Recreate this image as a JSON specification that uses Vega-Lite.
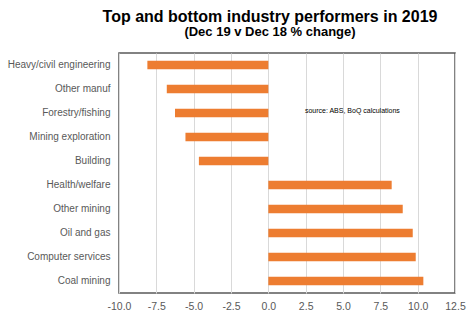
{
  "$schema": "https://vega.github.io/schema/vega-lite/v6.json",
  "width": 336,
  "height": 240,
  "autosize": {"type": "none"},
  "padding": {"left": 119, "top": 53, "right": 19, "bottom": 28},
  "background": "white",
  "title": {
    "text": "Top and bottom industry performers in 2019",
    "subtitle": "(Dec 19 v Dec 18 % change)",
    "anchor": "middle",
    "dx": -17,
    "offset": 14,
    "font": "Liberation Sans",
    "fontSize": 16,
    "fontWeight": "bold",
    "color": "#000000",
    "subtitleFont": "Liberation Sans",
    "subtitleFontSize": 13,
    "subtitleFontWeight": "bold",
    "subtitleColor": "#000000",
    "subtitlePadding": 1
  },
  "config": {
    "view": {"stroke": "#595959", "strokeWidth": 1.5},
    "font": "Liberation Sans",
    "axisX": {
      "title": null,
      "ticks": false,
      "domain": false,
      "grid": true,
      "gridColor": "#d9d9d9",
      "gridWidth": 1,
      "labelFontSize": 10.5,
      "labelColor": "#595959",
      "labelPadding": 8,
      "labelFont": "Liberation Sans",
      "labelFlush": false,
      "labelOverlap": false
    },
    "axisY": {
      "title": null,
      "ticks": false,
      "domain": false,
      "labelFontSize": 10,
      "labelColor": "#595959",
      "labelPadding": 9,
      "labelFont": "Liberation Sans",
      "labelLimit": 130
    }
  },
  "data": {
    "values": [
      {"industry": "Heavy/civil engineering", "change": -8.1},
      {"industry": "Other manuf", "change": -6.8},
      {"industry": "Forestry/fishing", "change": -6.25},
      {"industry": "Mining exploration", "change": -5.55},
      {"industry": "Building", "change": -4.65},
      {"industry": "Health/welfare", "change": 8.26},
      {"industry": "Other mining", "change": 9.0},
      {"industry": "Oil and gas", "change": 9.67},
      {"industry": "Computer services", "change": 9.87},
      {"industry": "Coal mining", "change": 10.38}
    ]
  },
  "layer": [
    {
      "mark": {"type": "bar", "color": "#ED7D31"},
      "encoding": {
        "y": {
          "field": "industry",
          "type": "nominal",
          "sort": null,
          "title": null,
          "scale": {"paddingInner": 0.64, "paddingOuter": 0.32}
        },
        "x": {
          "field": "change",
          "type": "quantitative",
          "title": null,
          "scale": {"domain": [-10, 12.5], "nice": false},
          "axis": {"values": [-10, -7.5, -5, -2.5, 0, 2.5, 5, 7.5, 10, 12.5], "tickCount": 10, "format": ".1f", "labelOverlap": false, "labelExpr": "replace(datum.label, '\u2212', '-')"}
        }
      }
    },
    {
      "mark": {"type": "text", "align": "left", "baseline": "middle", "fontSize": 7, "color": "#000000", "dy": -2, "font": "Liberation Sans"},
      "data": {"values": [{"note": "source:  ABS, BoQ calculations"}]},
      "encoding": {
        "text": {"field": "note"},
        "x": {"datum": 2.45, "axis": {"values": [-10, -7.5, -5, -2.5, 0, 2.5, 5, 7.5, 10, 12.5], "tickCount": 10, "format": ".1f", "labelOverlap": false, "labelExpr": "replace(datum.label, '\u2212', '-')"}},
        "y": {"datum": "Forestry/fishing"}
      }
    }
  ]
}
